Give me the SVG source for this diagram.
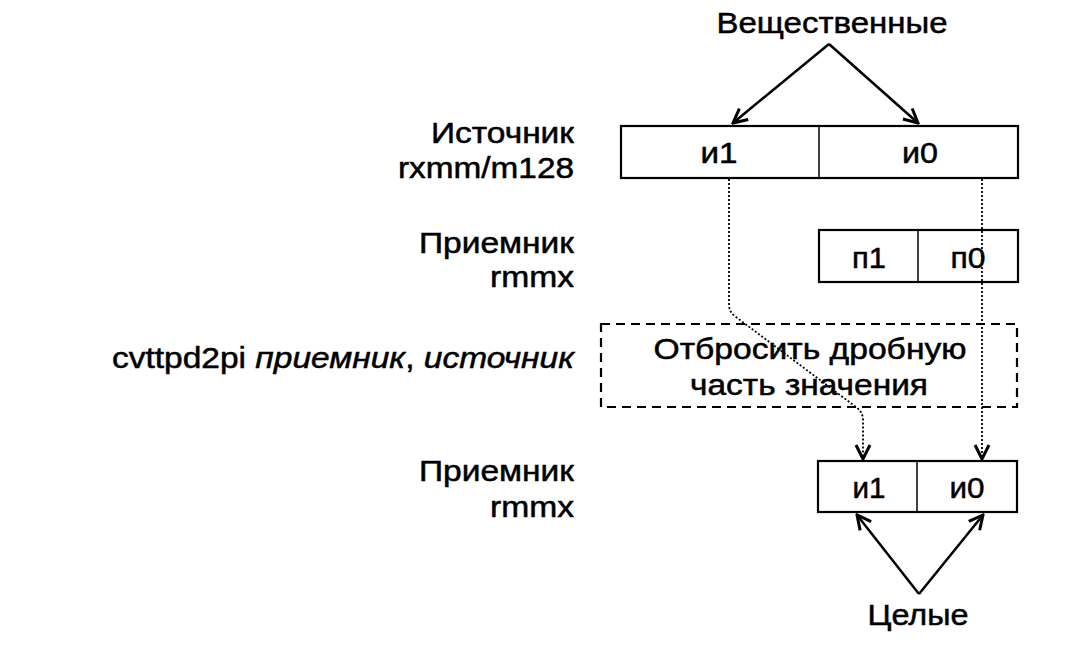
<svg xmlns="http://www.w3.org/2000/svg" width="1073" height="654" viewBox="0 0 1073 654">
<defs>
<style>
text{font-family:"Liberation Sans",Arial,sans-serif;font-size:29px;fill:#000;stroke:#000;stroke-width:0.5}
.lbl{text-anchor:end}
.mid{text-anchor:middle}
.box{fill:#fff;stroke:#000;stroke-width:2.2}
.div{stroke:#000;stroke-width:1.5}
.dash{fill:none;stroke:#000;stroke-width:2.2;stroke-dasharray:9 6}
.arr{fill:none;stroke:#000;stroke-width:2.5;marker-end:url(#ah)}
.dot{fill:none;stroke:#000;stroke-width:1.8;stroke-dasharray:2 2;marker-end:url(#ah)}
</style>
<marker id="ah" viewBox="0 0 18 18" refX="16" refY="9" markerWidth="18" markerHeight="18" markerUnits="userSpaceOnUse" orient="auto">
<path d="M2 2 L16 9 L2 16" fill="none" stroke="#000" stroke-width="3"/>
</marker>
</defs>
<rect width="1073" height="654" fill="#fff"/>
<g id="labels">
<text class="lbl" x="574" y="143" textLength="143" lengthAdjust="spacingAndGlyphs">Источник</text>
<text class="lbl" x="574" y="178" textLength="176" lengthAdjust="spacingAndGlyphs">rxmm/m128</text>
<text class="lbl" x="574" y="253" textLength="155" lengthAdjust="spacingAndGlyphs">Приемник</text>
<text class="lbl" x="574" y="287" textLength="84" lengthAdjust="spacingAndGlyphs">rmmx</text>
<text class="lbl" x="574" y="368" textLength="462" lengthAdjust="spacingAndGlyphs">cvttpd2pi <tspan font-style="italic">приемник</tspan>, <tspan font-style="italic">источник</tspan></text>
<text class="lbl" x="574" y="481" textLength="155" lengthAdjust="spacingAndGlyphs">Приемник</text>
<text class="lbl" x="574" y="517" textLength="84" lengthAdjust="spacingAndGlyphs">rmmx</text>
</g>
<g id="real">
<text class="mid" x="832" y="33" textLength="231" lengthAdjust="spacingAndGlyphs">Вещественные</text>
</g>
<g id="source">
<rect class="box" x="621" y="126" width="397" height="52"/>
<line class="div" x1="819" y1="126" x2="819" y2="178"/>
<text class="mid" x="719" y="163" textLength="37" lengthAdjust="spacingAndGlyphs">и1</text>
<text class="mid" x="920" y="163" textLength="36" lengthAdjust="spacingAndGlyphs">и0</text>
</g>
<g id="dest1">
<rect class="box" x="819" y="230" width="199" height="52"/>
<line class="div" x1="918" y1="230" x2="918" y2="282"/>
<text class="mid" x="869" y="268" textLength="34" lengthAdjust="spacingAndGlyphs">п1</text>
<text class="mid" x="968" y="268" textLength="35" lengthAdjust="spacingAndGlyphs">п0</text>
</g>
<g id="op">
<rect class="dash" x="601" y="324" width="416" height="83"/>
<text class="mid" x="810" y="359" textLength="313" lengthAdjust="spacingAndGlyphs">Отбросить дробную</text>
<text class="mid" x="809" y="395" textLength="238" lengthAdjust="spacingAndGlyphs">часть значения</text>
</g>
<g id="result">
<rect class="box" x="818" y="461" width="199" height="51"/>
<line class="div" x1="917" y1="461" x2="917" y2="512"/>
<text class="mid" x="869" y="498" textLength="33" lengthAdjust="spacingAndGlyphs">и1</text>
<text class="mid" x="967" y="498" textLength="35" lengthAdjust="spacingAndGlyphs">и0</text>
</g>
<g id="int">
<text class="mid" x="918" y="625" textLength="101" lengthAdjust="spacingAndGlyphs">Целые</text>
</g>
<g id="connectors">
<line class="arr" x1="829" y1="44" x2="733" y2="123"/>
<line class="arr" x1="829" y1="44" x2="918" y2="123"/>
<path class="dot" d="M729 179 V305 Q729 312 736 317 L856 407 Q863 412 863 420 V459"/>
<path class="dot" d="M982 179 V459"/>
<line class="arr" x1="919" y1="594" x2="857" y2="515"/>
<line class="arr" x1="919" y1="594" x2="983" y2="515"/>
</g>
</svg>
